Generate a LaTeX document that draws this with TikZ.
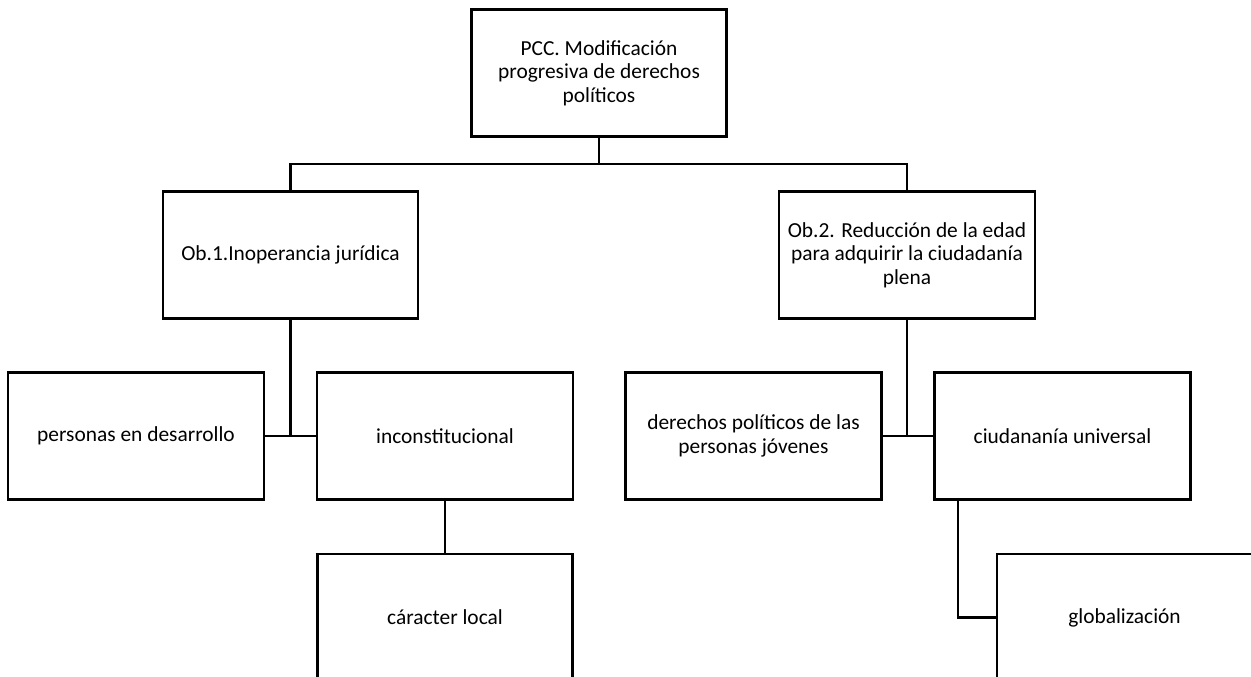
\documentclass[tikz,border=0pt]{standalone}
\usepackage{fontspec}
\setmainfont{Carlito}
\tikzset{
  box/.style={draw=black, line width=2.6pt, rectangle, minimum width=255pt, minimum height=127pt, inner sep=0pt, align=center, font=\fontsize{21.4}{23.5}\selectfont},
  conn/.style={draw=black, line width=2.6pt}
}
\begin{document}
\begin{tikzpicture}[x=1pt,y=-1pt]
\clip (0,0) rectangle (1251,677);
\fill[white] (0,0) rectangle (1251,677);
\node[box] (top) at (599,73) {PCC. Modificación\\progresiva de derechos\\políticos};
\node[box] (ob1) at (290.5,255) {Ob.1.Inoperancia jurídica};
\node[box, minimum width=256pt] (ob2) at (907,255) {Ob.2. Reducción de la edad\\para adquirir la ciudadanía\\plena};
\node[box, minimum width=256pt] (per) at (136,436) {personas en desarrollo};
\node[box, minimum width=256pt] (inc) at (445,436) {inconstitucional};
\node[box] (car) at (445,617.5) {cáracter local};
\node[box, minimum width=256pt] (der) at (753.5,436) {derechos políticos de las\\personas jóvenes};
\node[box, minimum width=256pt] (ciu) at (1062.5,436) {ciudananía universal};
\node[box] (glo) at (1124.5,617.5) {globalización};
\coordinate (hub) at (599,164);
\coordinate (l1) at (290.5,164);
\coordinate (r1) at (907,164);
\coordinate (j1) at (290.5,436);
\coordinate (j2) at (907,436);
\coordinate (c1) at (958,500);
\coordinate (c2) at (958,617.5);
\draw[conn] (top.south) -- (hub);
\draw[conn] (ob1.north) -- (l1) -- (r1) -- (ob2.north);
\draw[conn] (ob1.south) -- (j1);
\draw[conn] (per.east) -- (inc.west);
\draw[conn] (ob2.south) -- (j2);
\draw[conn] (der.east) -- (ciu.west);
\draw[conn] (inc.south) -- (car.north);
\draw[conn] (c1) -- (c2) -- (glo.west);
\end{tikzpicture}
\end{document}
